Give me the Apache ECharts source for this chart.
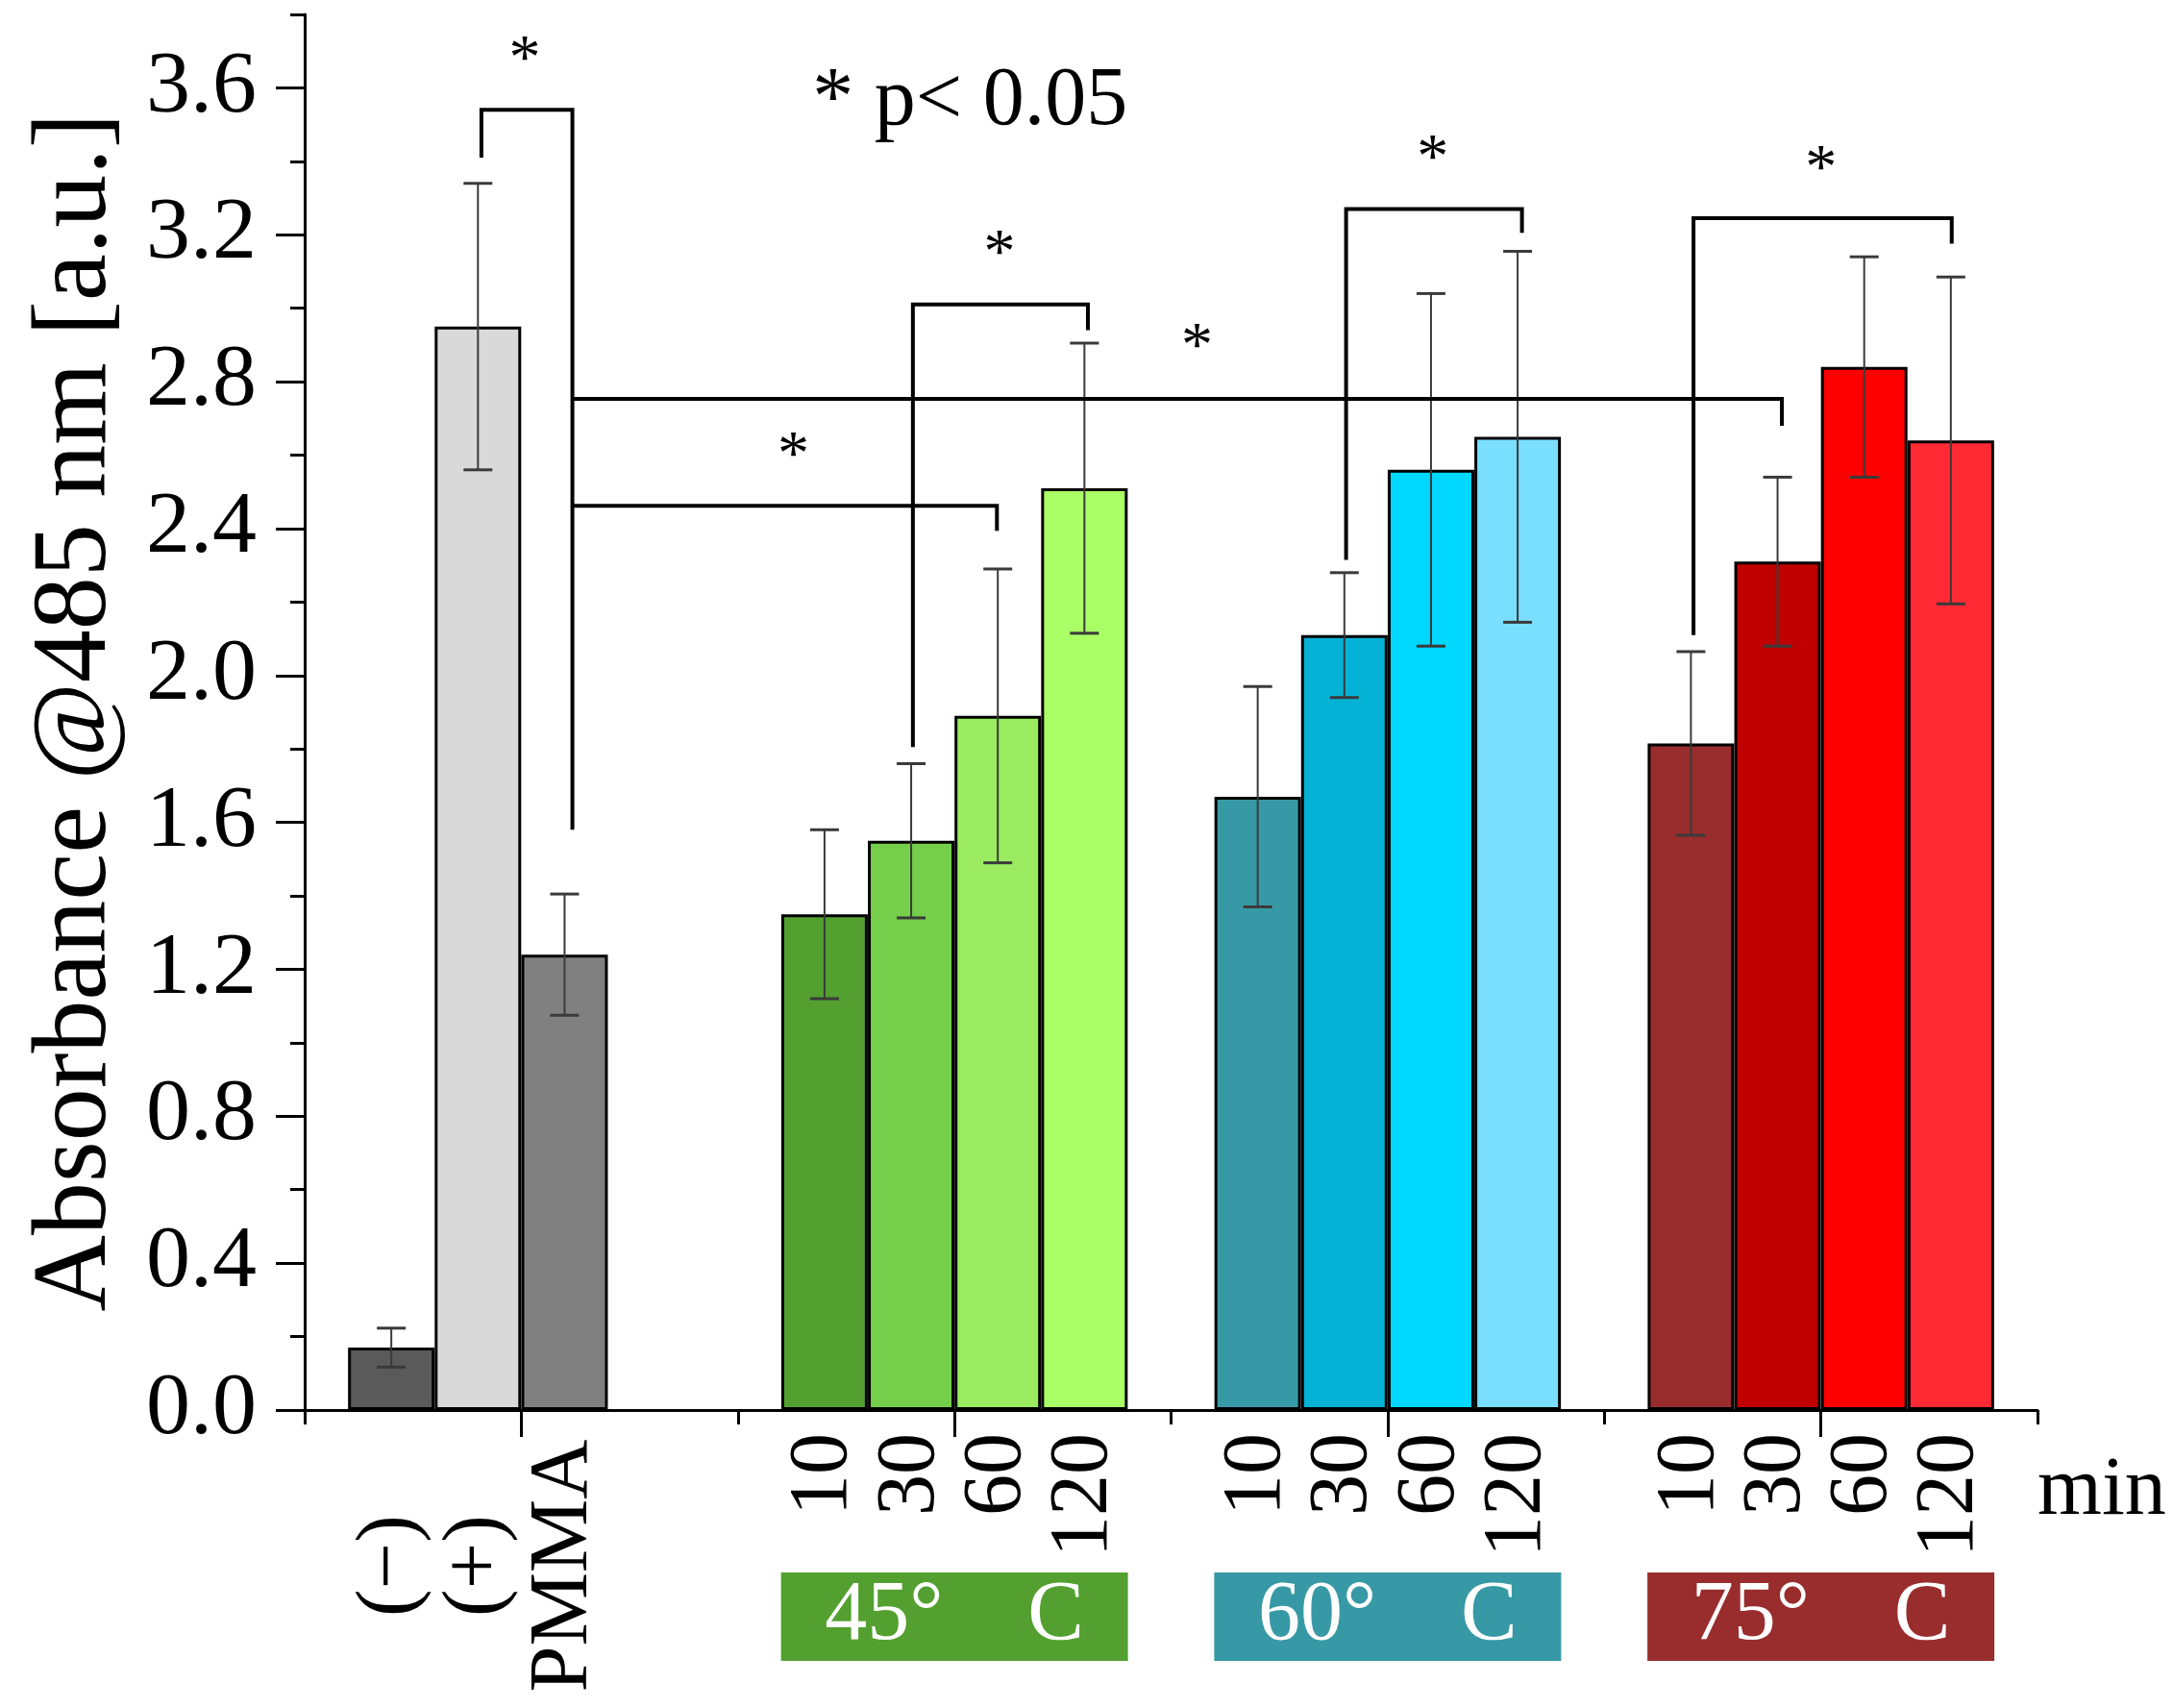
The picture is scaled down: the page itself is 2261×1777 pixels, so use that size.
<!DOCTYPE html>
<html>
<head>
<meta charset="utf-8">
<script src="https://cdn.jsdelivr.net/npm/echarts@6/dist/echarts.min.js"></script>
<style>
html, body { margin: 0; padding: 0; background: #fff; }
#chart { width: 2261px; height: 1777px; }
</style>
</head>
<body>
<div id="chart"></div>
<script>
"use strict"

var FONT = '"Liberation Serif", "Times New Roman", serif';

// bar slots on the x scale (one unit per bar) and their labels
var slots = [1, 2, 3, 6, 7, 8, 9, 11, 12, 13, 14, 16, 17, 18, 19];
var sampleLabels = ['(−)', '(+)', 'PMMA', '10', '30', '60', '120', '10', '30', '60', '120', '10', '30', '60', '120'];
var means  = [0.17, 2.95, 1.24, 1.35, 1.55, 1.89, 2.51, 1.67, 2.11, 2.56, 2.65, 1.815, 2.31, 2.84, 2.64];
var errors = [0.053, 0.39, 0.165, 0.23, 0.21, 0.40, 0.395, 0.30, 0.17, 0.48, 0.505, 0.25, 0.23, 0.30, 0.445];
var barColors = ['#5a5a5a', '#d9d9d9', '#808080',
                 '#53a030', '#76cf4a', '#9aeb5f', '#aaff66',
                 '#3799a5', '#03b2d4', '#00d8ff', '#7adfff',
                 '#992d2d', '#c00000', '#ff0000', '#ff2a33'];

// temperature groups
var groupNames   = ['45°    C', '60°    C', '75°    C'];
var groupCenters = [7.5, 12.5, 17.5];
var groupColors  = ['#53a030', '#3799a5', '#992d2d'];

// ticks
var yTicks = [0, 0.4, 0.8, 1.2, 1.6, 2.0, 2.4, 2.8, 3.2, 3.6];
var xShortTicks = [0, 5, 10, 15, 20];
var xLongTicks = [2.5, 7.5, 12.5, 17.5];
var controlSlots = [1, 2, 3];

// significance brackets, polyline points in data units [x, y]
var brackets = [
    [[2.04, 3.41], [2.04, 3.54], [3.09, 3.54], [3.09, 1.58]],
    [[3.09, 2.753], [17.05, 2.753], [17.05, 2.68]],
    [[3.09, 2.462], [7.99, 2.462], [7.99, 2.394]],
    [[7.02, 1.805], [7.02, 3.01], [9.04, 3.01], [9.04, 2.94]],
    [[12.02, 2.315], [12.02, 3.27], [14.05, 3.27], [14.05, 3.205]],
    [[16.03, 2.11], [16.03, 3.245], [19.01, 3.245], [19.01, 3.176]]
];
// asterisk centres [x, y]
var stars = [[2.54, 3.70], [8.02, 3.17], [5.64, 2.62], [10.30, 2.915], [13.02, 3.43], [17.5, 3.40]];
var noteText = '* p< 0.05';
var notePos = [5.86, 3.56];

function sampleLabel(v){
    var i = slots.indexOf(v);
    return i < 0 ? '' : sampleLabels[i];
}

function renderError(params, api){
    var x = api.value(0), m = api.value(1), e = api.value(2);
    var top = api.coord([x, m + e]);
    var bot = api.coord([x, m - e]);
    var half = 15;
    var c = '#3a3a3a';
    return {
        type: 'group',
        children: [
            {type: 'line', shape: {x1: top[0], y1: top[1], x2: bot[0], y2: bot[1]}, style: {stroke: c, lineWidth: 2}},
            {type: 'line', shape: {x1: top[0] - half, y1: top[1], x2: top[0] + half, y2: top[1]}, style: {stroke: c, lineWidth: 3}},
            {type: 'line', shape: {x1: bot[0] - half, y1: bot[1], x2: bot[0] + half, y2: bot[1]}, style: {stroke: c, lineWidth: 3}}
        ]
    };
}

function renderBracket(params, api){
    var pts = brackets[params.dataIndex].map(function(p){ return api.coord(p); });
    return {type: 'polyline', shape: {points: pts}, style: {stroke: '#000', lineWidth: 4, fill: 'none'}};
}

function renderStar(params, api){
    var c = api.coord([api.value(0), api.value(1)]);
    return {
        type: 'text', x: c[0], y: c[1] + 10,
        style: {text: '*', fontSize: 66, fontFamily: FONT, fill: '#000', align: 'center', verticalAlign: 'middle'}
    };
}

function renderNote(params, api){
    var c = api.coord([api.value(0), api.value(1)]);
    return {
        type: 'text', x: c[0], y: c[1],
        style: {text: noteText, fontSize: 86, fontFamily: FONT, fill: '#000', align: 'left', verticalAlign: 'middle'}
    };
}

var rich = {};
for (let i = 0; i < groupNames.length; i++){
    rich['g' + i] = {
        backgroundColor: groupColors[i],
        color: '#fff',
        width: 361,
        height: 92,
        lineHeight: 92,
        align: 'center',
        fontSize: 88,
        fontFamily: FONT
    };
}

var labelFont = {color: '#000', fontFamily: FONT};
var blackLine = {color: '#000', width: 3};

var chart = echarts.init(document.getElementById('chart'));
var option = {
    animation: false,
    backgroundColor: '#fff',
    textStyle: {fontFamily: FONT},
    grid: {left: 317, right: 141, top: 15, bottom: 310, outerBoundsMode: 'none'},
    xAxis: [
        {
            type: 'value', min: 0, max: 20, position: 'bottom',
            axisLine: {show: true, lineStyle: blackLine},
            axisTick: {show: true, customValues: xShortTicks, length: 15, lineStyle: blackLine},
            axisLabel: Object.assign({
                show: true, customValues: slots.slice(3), rotate: 90, margin: 24,
                fontSize: 86, hideOverlap: false, formatter: sampleLabel
            }, labelFont),
            splitLine: {show: false},
            name: 'min', nameLocation: 'end', nameGap: 0,
            nameTextStyle: Object.assign({fontSize: 86, align: 'left', verticalAlign: 'top', padding: [42, 0, 0, 0]}, labelFont)
        },
        {
            type: 'value', min: 0, max: 20, position: 'bottom',
            axisLine: {show: false},
            axisTick: {show: true, customValues: xLongTicks, length: 28, lineStyle: blackLine},
            axisLabel: Object.assign({
                show: true, customValues: controlSlots, rotate: 90, margin: 162, align: 'center',
                fontSize: 86, hideOverlap: false, formatter: sampleLabel
            }, labelFont),
            splitLine: {show: false}
        },
        {
            type: 'value', min: 0, max: 20, position: 'bottom',
            axisLine: {show: false},
            axisTick: {show: false},
            axisLabel: {
                show: true, customValues: groupCenters, margin: 169, hideOverlap: false,
                formatter: function(v){
                    var i = groupCenters.indexOf(v);
                    return i < 0 ? '' : '{g' + i + '|' + groupNames[i] + '}';
                },
                rich: rich
            },
            splitLine: {show: false}
        }
    ],
    yAxis: [
        {
            type: 'value', min: 0, max: 3.8, interval: 0.2, position: 'left',
            axisLine: {show: true, lineStyle: blackLine},
            axisTick: {show: true, length: 15, lineStyle: blackLine},
            axisLabel: Object.assign({
                customValues: yTicks, margin: 50, fontSize: 92,
                formatter: function(v){ return v.toFixed(1); }
            }, labelFont),
            splitLine: {show: false},
            name: 'Absorbance @485 nm [a.u.]',
            nameLocation: 'middle',
            nameGap: 182,
            nameTextStyle: Object.assign({fontSize: 110}, labelFont)
        },
        {
            type: 'value', min: 0, max: 3.8, position: 'left',
            axisLine: {show: false},
            axisTick: {show: true, customValues: yTicks, length: 30, lineStyle: blackLine},
            axisLabel: {show: false},
            splitLine: {show: false}
        }
    ],
    series: [
        {
            type: 'bar',
            barWidth: 90,
            data: slots.map(function(x, i){
                return {value: [x, means[i]], itemStyle: {color: barColors[i]}};
            }),
            itemStyle: {borderColor: '#000', borderWidth: 3},
            z: 2
        },
        {
            type: 'custom',
            renderItem: renderError,
            data: slots.map(function(x, i){ return [x, means[i], errors[i]]; }),
            z: 3
        },
        {
            type: 'custom',
            renderItem: renderBracket,
            data: brackets.map(function(b){ return b[0]; }),
            z: 4
        },
        {
            type: 'custom',
            renderItem: renderStar,
            data: stars,
            z: 5
        },
        {
            type: 'custom',
            renderItem: renderNote,
            data: [notePos],
            z: 5
        }
    ]
};
chart.setOption(option);
</script>
</body>
</html>
